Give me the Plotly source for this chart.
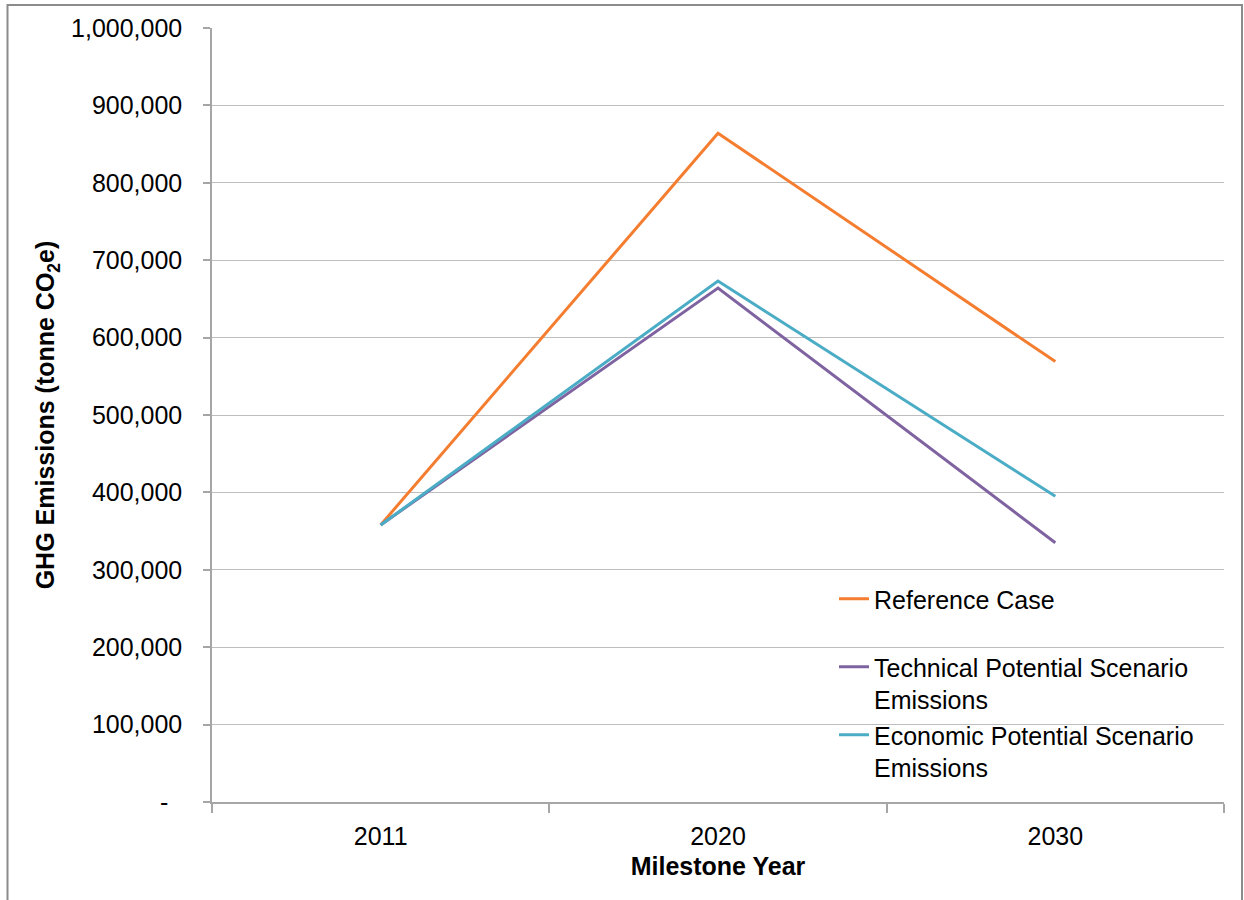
import plotly.graph_objects as go

years = ["2011", "2020", "2030"]
reference_case = [358000, 864000, 569000]
technical_potential = [358000, 664000, 335000]
economic_potential = [358000, 673000, 395000]

y_tickvals = [0, 100000, 200000, 300000, 400000, 500000, 600000, 700000, 800000, 900000, 1000000]
y_ticktext = ["-\u00a0\u00a0", "100,000", "200,000", "300,000", "400,000", "500,000",
              "600,000", "700,000", "800,000", "900,000", "1,000,000"]

FONT = "Liberation Sans, Arial, sans-serif"
FS = 25

fig = go.Figure()
fig.add_trace(go.Scatter(x=years, y=reference_case, mode="lines", name="Reference Case<br> ",
                         line=dict(color="#F47D30", width=3), legendgroup="a"))
fig.add_trace(go.Scatter(x=years, y=technical_potential, mode="lines",
                         name="Technical Potential Scenario<br>Emissions",
                         line=dict(color="#7F63A1", width=3), legendgroup="b"))
fig.add_trace(go.Scatter(x=years, y=economic_potential, mode="lines",
                         name="Economic Potential Scenario<br>Emissions",
                         line=dict(color="#4BACC6", width=3), legendgroup="c"))

L, R, T, B = 212, 20, 28, 98
W, H = 1244, 900
pw, ph = W - L - R, H - T - B

fig.update_layout(
    width=W, height=H,
    margin=dict(l=L, r=R, t=T, b=B, pad=0),
    paper_bgcolor="white", plot_bgcolor="white",
    font=dict(family=FONT, size=FS, color="#000000"),
    showlegend=True,
    legend=dict(x=(834 - L) / pw, y=(802 - 576) / ph, xanchor="left", yanchor="top",
                bgcolor="rgba(0,0,0,0)", font=dict(size=FS, family=FONT),
                tracegroupgap=10, itemwidth=30, traceorder="normal", valign="top"),
    xaxis=dict(
        type="category", tickson="boundaries", showgrid=False, range=[-0.5, 2.5],
        showline=True, linecolor="#A6A6A6", linewidth=1.5,
        ticks="outside", ticklen=9, tickcolor="#A6A6A6", tickwidth=1.5,
        ticklabelstandoff=11,
        tickfont=dict(size=FS, family=FONT),
        title=dict(text="<b>Milestone Year</b>", font=dict(size=FS, family=FONT), standoff=9),
        fixedrange=True,
    ),
    yaxis=dict(
        range=[0, 1000000], tickvals=y_tickvals, ticktext=y_ticktext,
        showgrid=True, gridcolor="#BEBEBE", gridwidth=1.2,
        showline=True, linecolor="#A6A6A6", linewidth=1.5,
        ticks="outside", ticklen=7, tickcolor="#A6A6A6", tickwidth=1.5,
        ticklabelstandoff=16,
        tickfont=dict(size=FS, family=FONT),
        zeroline=False,
        title=dict(text="<b>GHG Emissions (tonne CO<sub>2</sub>e)</b>",
                   font=dict(size=FS, family=FONT), standoff=9),
        fixedrange=True,
    ),
    shapes=[dict(type="rect", xref="paper", yref="paper",
                 x0=(7.5 - L) / pw, x1=(1242 - L) / pw,
                 y0=(802 - 905) / ph, y1=1 + (T - 5) / ph,
                 line=dict(color="#8C8C8C", width=2), fillcolor="rgba(0,0,0,0)", layer="below")],
)

fig.write_html("out.html")
